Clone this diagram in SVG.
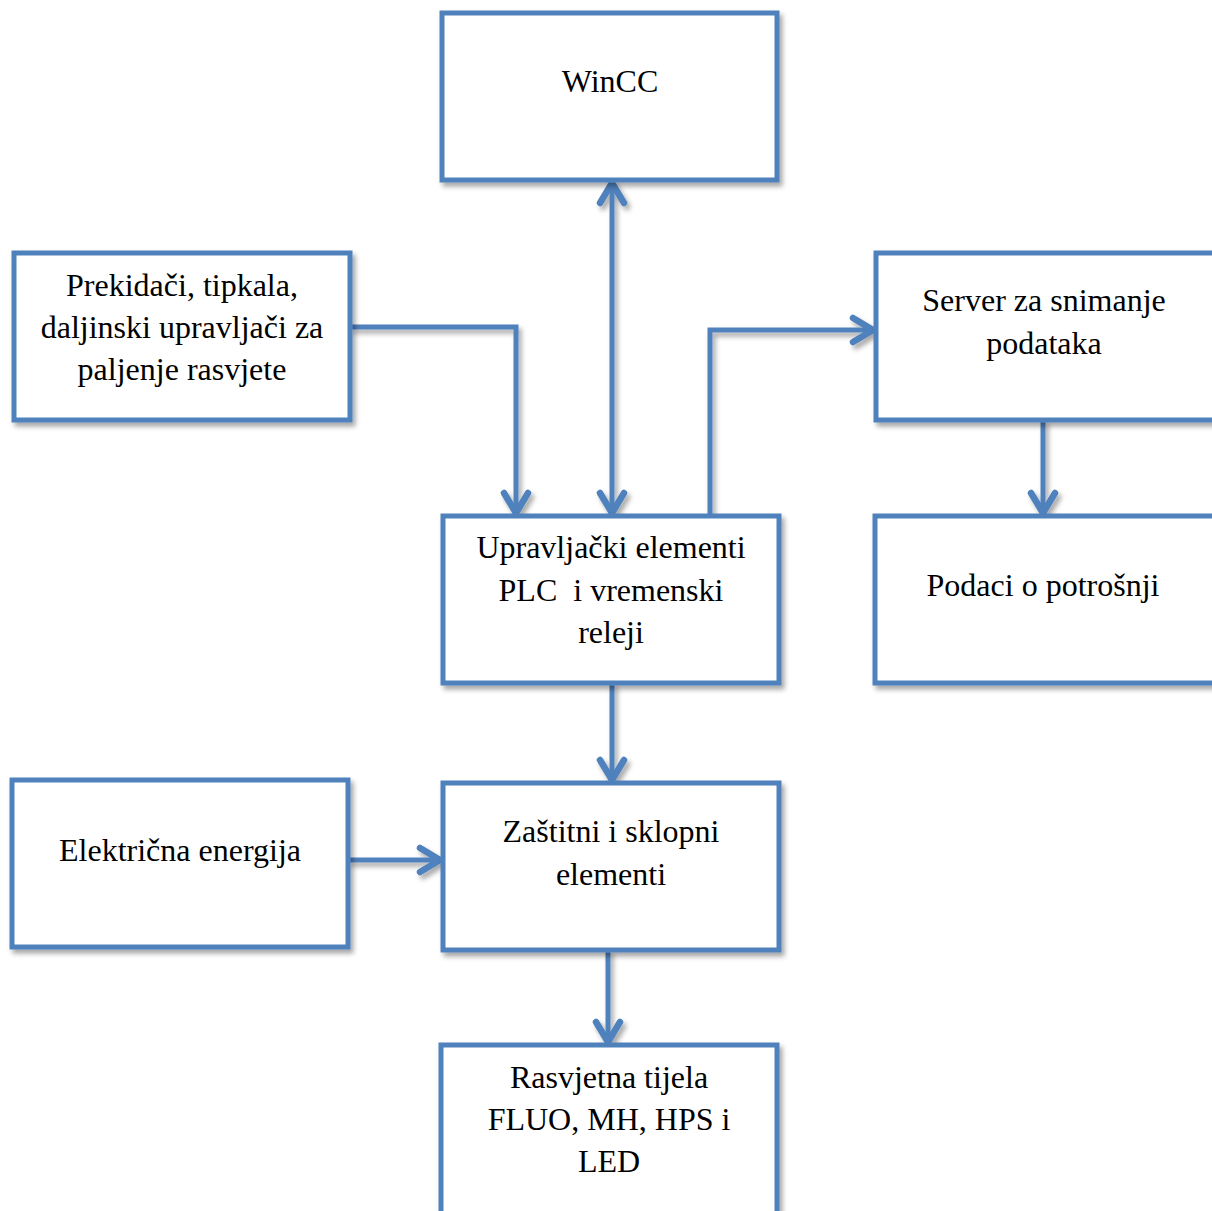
<svg xmlns="http://www.w3.org/2000/svg" width="1212" height="1211" viewBox="0 0 1212 1211">
<defs>
<filter id="sh" filterUnits="userSpaceOnUse" x="0" y="0" width="1212" height="1211">
<feDropShadow dx="3" dy="4" stdDeviation="2.5" flood-color="#000" flood-opacity="0.35"/>
</filter>
<marker id="ah" viewBox="-28 -18 32 36" markerWidth="32" markerHeight="36" refX="0" refY="0" orient="auto-start-reverse" markerUnits="userSpaceOnUse">
<path d="M-20,-12 L0,0 L-20,12" fill="none" stroke="#4F81BD" stroke-width="6.5" stroke-linecap="round" stroke-linejoin="round"/>
</marker>
<style>
.box{fill:#fff;stroke:#4F81BD;stroke-width:5;filter:url(#sh)}
.t{font-family:"Liberation Serif","Times New Roman",serif;font-size:32px;fill:#000;text-anchor:middle}
.c{fill:none;stroke:#4F81BD;stroke-width:5;filter:url(#sh)}
</style>
</defs>
<rect width="1212" height="1211" fill="#fff"/>
<g id="connectors">
<path class="c" d="M612,183 L612,513" marker-start="url(#ah)" marker-end="url(#ah)"/>
<path class="c" d="M350,327 L516,327 L516,513" marker-end="url(#ah)"/>
<path class="c" d="M710,516 L710,330 L873,330" marker-end="url(#ah)"/>
<path class="c" d="M1043,420 L1043,513" marker-end="url(#ah)"/>
<path class="c" d="M612,683 L612,780" marker-end="url(#ah)"/>
<path class="c" d="M348,860 L440,860" marker-end="url(#ah)"/>
<path class="c" d="M608,950 L608,1042" marker-end="url(#ah)"/>
</g>
<g id="wincc">
<rect class="box" x="442" y="13" width="335" height="167"/>
<text class="t" x="610" y="92">WinCC</text>
</g>
<g id="prekidaci">
<rect class="box" x="14" y="253" width="336" height="167"/>
<text class="t" x="182" y="296">Prekidači, tipkala,</text>
<text class="t" x="182" y="338">daljinski upravljači za</text>
<text class="t" x="182" y="380">paljenje rasvjete</text>
</g>
<g id="server">
<rect class="box" x="876" y="253" width="340" height="167"/>
<text class="t" x="1044" y="311">Server za snimanje</text>
<text class="t" x="1044" y="354">podataka</text>
</g>
<g id="upravljacki">
<rect class="box" x="443" y="516" width="336" height="167"/>
<text class="t" x="611" y="558">Upravljački elementi</text>
<text class="t" x="611" y="601">PLC&#160; i vremenski</text>
<text class="t" x="611" y="643">releji</text>
</g>
<g id="podaci">
<rect class="box" x="875" y="516" width="341" height="167"/>
<text class="t" x="1043" y="596">Podaci o potrošnji</text>
</g>
<g id="elektricna">
<rect class="box" x="12" y="780" width="336" height="167"/>
<text class="t" x="180" y="861">Električna energija</text>
</g>
<g id="zastitni">
<rect class="box" x="443" y="783" width="336" height="167"/>
<text class="t" x="611" y="842">Zaštitni i sklopni</text>
<text class="t" x="611" y="885">elementi</text>
</g>
<g id="rasvjetna">
<rect class="box" x="441" y="1045" width="336" height="180"/>
<text class="t" x="609" y="1088">Rasvjetna tijela</text>
<text class="t" x="609" y="1130">FLUO, MH, HPS i</text>
<text class="t" x="609" y="1172">LED</text>
</g>
</svg>
